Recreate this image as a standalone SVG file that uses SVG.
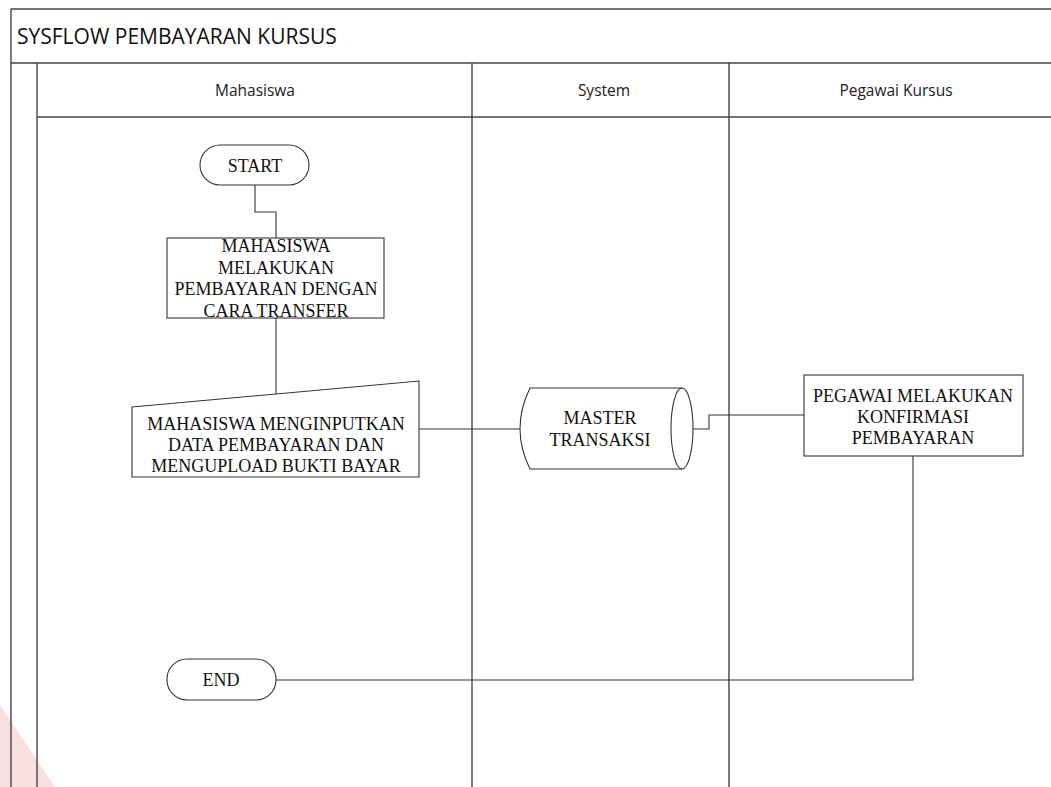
<svg xmlns="http://www.w3.org/2000/svg" width="1051" height="787" viewBox="0 0 1051 787">
<style>
.frame{fill:none;stroke:#444;stroke-width:1.4}
.shape{fill:#fff;stroke:#333;stroke-width:1.1}
.conn{fill:none;stroke:#333;stroke-width:1.1}
.t{font-family:"Liberation Serif","Times New Roman",serif;font-size:18px;fill:#111;text-anchor:middle}
.h{font-family:"Open Sans","Liberation Sans",sans-serif;font-size:15.5px;fill:#222;text-anchor:middle}
.title{font-family:"Open Sans","Liberation Sans",sans-serif;font-size:21px;fill:#111}
</style>
<rect width="1051" height="787" fill="#fff"/>
<polygon points="0,705 55,787 0,787" fill="#f6d3d3" opacity="0.7"/>
<g id="pool">
<line class="frame" x1="11" y1="9" x2="1051" y2="9"/>
<line class="frame" x1="11" y1="9" x2="11" y2="787"/>
<line class="frame" x1="11" y1="63" x2="1051" y2="63"/>
<line class="frame" x1="37" y1="63" x2="37" y2="787"/>
<line class="frame" x1="37" y1="117" x2="1051" y2="117"/>
<line class="frame" x1="472" y1="63" x2="472" y2="787"/>
<line class="frame" x1="729" y1="63" x2="729" y2="787"/>
<text class="title" x="17" y="44">SYSFLOW PEMBAYARAN KURSUS</text>
<text class="h" x="255" y="96">Mahasiswa</text>
<text class="h" x="604" y="96">System</text>
<text class="h" x="896" y="96">Pegawai Kursus</text>
</g>
<g id="connectors">
<polyline class="conn" points="255,185 255,212 276,212 276,238"/>
<line class="conn" x1="276" y1="318" x2="276" y2="394"/>
<line class="conn" x1="419" y1="429" x2="520" y2="429"/>
<polyline class="conn" points="693,429 709,429 709,415 804,415"/>
<polyline class="conn" points="913,456 913,680 276,680"/>
</g>
<g id="start">
<rect class="shape" x="200" y="145" width="109" height="40" rx="20" ry="20"/>
<text class="t" x="255" y="172">START</text>
</g>
<g id="proses-transfer">
<rect class="shape" x="167" y="238" width="217" height="80"/>
<text class="t" x="276" y="252">MAHASISWA</text>
<text class="t" x="276" y="273.5">MELAKUKAN</text>
<text class="t" x="276" y="295">PEMBAYARAN DENGAN</text>
<text class="t" x="276" y="316.5">CARA TRANSFER</text>
</g>
<g id="input-data">
<polygon class="shape" points="132,407 419,381 419,477 132,477"/>
<text class="t" x="276" y="430">MAHASISWA MENGINPUTKAN</text>
<text class="t" x="276" y="451">DATA PEMBAYARAN DAN</text>
<text class="t" x="276" y="472">MENGUPLOAD BUKTI BAYAR</text>
</g>
<g id="master-transaksi">
<path class="shape" d="M530,388 L682,388 A11,40.5 0 0 1 682,469 L530,469 Q510,428.5 530,388 Z"/>
<path class="conn" d="M682,388 A11,40.5 0 0 0 682,469"/>
<text class="t" x="600" y="424">MASTER</text>
<text class="t" x="600" y="446">TRANSAKSI</text>
</g>
<g id="konfirmasi">
<rect class="shape" x="804" y="375" width="219" height="81"/>
<text class="t" x="913" y="402">PEGAWAI MELAKUKAN</text>
<text class="t" x="913" y="423">KONFIRMASI</text>
<text class="t" x="913" y="444">PEMBAYARAN</text>
</g>
<g id="end">
<rect class="shape" x="167" y="659" width="109" height="41" rx="20" ry="20"/>
<text class="t" x="221" y="686">END</text>
</g>
</svg>
